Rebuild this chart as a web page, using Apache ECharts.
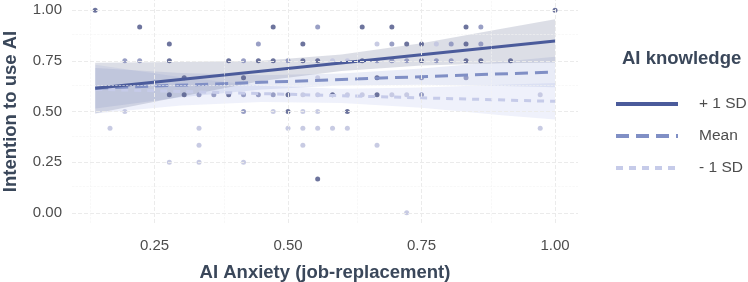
<!DOCTYPE html>
<html>
<head>
<meta charset="utf-8">
<script src="https://cdn.jsdelivr.net/npm/echarts@6/dist/echarts.min.js"></script>
<style>html,body{margin:0;padding:0;background:#fff;}#c{width:748px;height:282px;}</style>
</head>
<body>
<div id="c"></div>
<script>
// ---- Data ----
var groups = ['+ 1 SD', 'Mean', '- 1 SD'];
var xTicks = [0.25, 0.5, 0.75, 1.0];
var yTicks = [0.0, 0.25, 0.5, 0.75, 1.0];
var xMinor = [0.125, 0.375, 0.625, 0.875];
var yMinor = [0.125, 0.375, 0.625, 0.875];

// raw scatter points: [anxiety (k/36), intention]
var ptsHigh = [
  [5/36,1.0],[36/36,1.0],
  [8/36,0.917],[17/36,0.917],[23/36,0.917],[25/36,0.917],[30/36,0.917],
  [10/36,0.833],[19/36,0.833],[26/36,0.833],[27/36,0.833],[30/36,0.833],
  [10/36,0.75],[14/36,0.75],[16/36,0.75],[17/36,0.75],[19/36,0.75],[20/36,0.75],[23/36,0.75],[27/36,0.75],[30/36,0.75],[31/36,0.75],[33/36,0.75],
  [11/36,0.667],[15/36,0.667],[24/36,0.667],
  [10/36,0.583],[11/36,0.583],[14/36,0.583],[18/36,0.583],[21/36,0.583],[24/36,0.583],
  [18/36,0.5],[22/36,0.5],
  [20/36,0.167]
];
var ptsMean = [
  [20/36,0.917],[31/36,0.917],
  [16/36,0.833],[25/36,0.833],[29/36,0.833],[31/36,0.833],
  [7/36,0.75],[8/36,0.75],[15/36,0.75],[18/36,0.75],[24/36,0.75],[25/36,0.75],[26/36,0.75],[28/36,0.75],[29/36,0.75],
  [27/36,0.667],[30/36,0.667],
  [12/36,0.583],[13/36,0.583],[15/36,0.583],[16/36,0.583],[17/36,0.583],[27/36,0.583],
  [15/36,0.5]
];
var ptsLow = [
  [24/36,0.833],[28/36,0.833],
  [21/36,0.75],[22/36,0.75],
  [20/36,0.667],
  [19/36,0.583],[20/36,0.583],[22/36,0.583],[23/36,0.583],[25/36,0.583],[26/36,0.583],[35/36,0.583],
  [7/36,0.5],[17/36,0.5],[19/36,0.5],[20/36,0.5],
  [6/36,0.417],[12/36,0.417],[18/36,0.417],[19/36,0.417],[20/36,0.417],[21/36,0.417],[22/36,0.417],[35/36,0.417],
  [12/36,0.333],[19/36,0.333],[24/36,0.333],
  [10/36,0.25],[12/36,0.25],[15/36,0.25],
  [26/36,0.0]
];

// fitted lines (endpoints)
var lineX = [0.139, 1.0];
var lineHigh = [0.615, 0.848];
var lineMean = [0.615, 0.695];
var lineLow  = [0.610, 0.550];

// confidence bands read at several x positions
var bandX      = [0.139, 0.30, 0.45, 0.60, 0.75, 0.90, 1.00];
var bandHighLo = [0.490, 0.574, 0.650, 0.700, 0.727, 0.738, 0.742];
var bandHighHi = [0.740, 0.744, 0.750, 0.781, 0.837, 0.908, 0.955];
var bandMeanLo = [0.515, 0.570, 0.609, 0.628, 0.632, 0.626, 0.620];
var bandMeanHi = [0.715, 0.690, 0.679, 0.688, 0.712, 0.746, 0.770];
var bandLowLo  = [0.490, 0.529, 0.547, 0.542, 0.518, 0.482, 0.460];
var bandLowHi  = [0.730, 0.669, 0.627, 0.612, 0.618, 0.632, 0.640];

var FONT = 'Liberation Sans, Arial, sans-serif';
var cHigh = '#4b5b9b', cMean = '#808fc5', cLow = '#c6cbe9';

function zipXY(xs, ys){ return xs.map(function(x,i){ return [x, ys[i]]; }); }

function bandSeries(name, lo, hi, fill){
  return {
    type: 'custom', name: name + ' band', silent: true, z: 1,
    data: bandX.map(function(x,i){ return [x, lo[i], hi[i]]; }),
    encode: { x: 0, y: [1,2] },
    renderItem: function(params, api){
      if (params.dataIndex !== 0) return null;
      var pts = [];
      for (var i = 0; i < bandX.length; i++) pts.push(api.coord([bandX[i], hi[i]]));
      for (var j = bandX.length - 1; j >= 0; j--) pts.push(api.coord([bandX[j], lo[j]]));
      return { type: 'polygon', shape: { points: pts }, style: { fill: fill } };
    }
  };
}

function gridLines(){
  var d = [];
  xTicks.forEach(function(v){ d.push({ xAxis: v, lineStyle: { color: '#ebebeb', width: 1 } }); });
  yTicks.forEach(function(v){ d.push({ yAxis: v, lineStyle: { color: '#ebebeb', width: 1 } }); });
  xMinor.forEach(function(v){ d.push({ xAxis: v, lineStyle: { color: '#f4f4f4', width: 0.6 } }); });
  yMinor.forEach(function(v){ d.push({ yAxis: v, lineStyle: { color: '#f4f4f4', width: 0.6 } }); });
  return d;
}

var chart = echarts.init(document.getElementById('c'), null, { renderer: 'canvas' });
chart.setOption({
  backgroundColor: '#ffffff',
  animation: false,
  textStyle: { fontFamily: FONT },
  title: {
    text: 'AI knowledge', left: 617, top: 44,
    textStyle: { fontFamily: FONT, fontSize: 18.5, fontWeight: 'bold', color: '#3a475a' }
  },
  legend: {
    data: groups, orient: 'vertical', left: 609, top: 91,
    itemWidth: 62, itemHeight: 4, itemGap: 16,
    lineStyle: { width: 4 },
    itemStyle: { opacity: 0 },
    formatter: function(name){ return '{t|' + name + '}'; },
    textStyle: { fontFamily: FONT, fontSize: 15.5, color: '#4d4d4d',
      rich: { t: { fontFamily: FONT, fontSize: 15.5, color: '#4d4d4d', padding: [0,0,0,16] } } },
    selectedMode: false
  },
  grid: { left: 72, right: 170, top: 0, bottom: 59, outerBoundsMode: 'none', containLabel: false },
  xAxis: {
    type: 'value', min: 0.0955, max: 1.043,
    name: 'AI Anxiety (job-replacement)', nameLocation: 'middle', nameGap: 40,
    nameTextStyle: { fontFamily: FONT, fontSize: 18.5, fontWeight: 'bold', color: '#3a475a' },
    axisLine: { show: false }, axisTick: { show: false, customValues: xTicks },
    splitLine: { show: false },
    axisLabel: { customValues: xTicks, margin: 15, fontSize: 15, color: '#4d4d4d', fontFamily: FONT,
      formatter: function(v){ return v.toFixed(2); } }
  },
  yAxis: {
    type: 'value', min: -0.05, max: 1.05,
    name: 'Intention to use AI', nameLocation: 'middle', nameGap: 52,
    nameTextStyle: { fontFamily: FONT, fontSize: 18.5, fontWeight: 'bold', color: '#3a475a' },
    axisLine: { show: false }, axisTick: { show: false, customValues: yTicks },
    splitLine: { show: false },
    axisLabel: { customValues: yTicks, margin: 10, fontSize: 15, color: '#4d4d4d', fontFamily: FONT,
      formatter: function(v){ return v.toFixed(2); } }
  },
  series: [
    { type: 'line', name: 'grid', data: [], silent: true, z: 0,
      markLine: { silent: true, symbol: 'none', label: { show: false }, animation: false, data: gridLines() } },
    bandSeries('- 1 SD', bandLowLo, bandLowHi, 'rgba(175,185,235,0.20)'),
    bandSeries('Mean', bandMeanLo, bandMeanHi, 'rgba(120,138,205,0.16)'),
    bandSeries('+ 1 SD', bandHighLo, bandHighHi, 'rgba(95,105,140,0.22)'),
    { type: 'scatter', name: 'pl', data: ptsLow, symbolSize: 5, z: 3, silent: true,
      itemStyle: { color: '#c2c5e0', opacity: 0.9 } },
    { type: 'scatter', name: 'pm', data: ptsMean, symbolSize: 5, z: 3, silent: true,
      itemStyle: { color: '#8e95bf', opacity: 0.9 } },
    { type: 'scatter', name: 'ph', data: ptsHigh, symbolSize: 5, z: 3, silent: true,
      itemStyle: { color: '#5d6592', opacity: 0.9 } },
    { type: 'line', name: '- 1 SD', data: zipXY(lineX, lineLow), symbol: 'none', z: 4,
      itemStyle: { color: cLow }, lineStyle: { color: cLow, width: 3, type: [7,6] } },
    { type: 'line', name: 'Mean', data: zipXY(lineX, lineMean), symbol: 'none', z: 4,
      itemStyle: { color: cMean }, lineStyle: { color: cMean, width: 3, type: [13,7] } },
    { type: 'line', name: '+ 1 SD', data: zipXY(lineX, lineHigh), symbol: 'none', z: 4,
      itemStyle: { color: cHigh }, lineStyle: { color: cHigh, width: 3 } }
  ]
});
</script>
</body>
</html>
